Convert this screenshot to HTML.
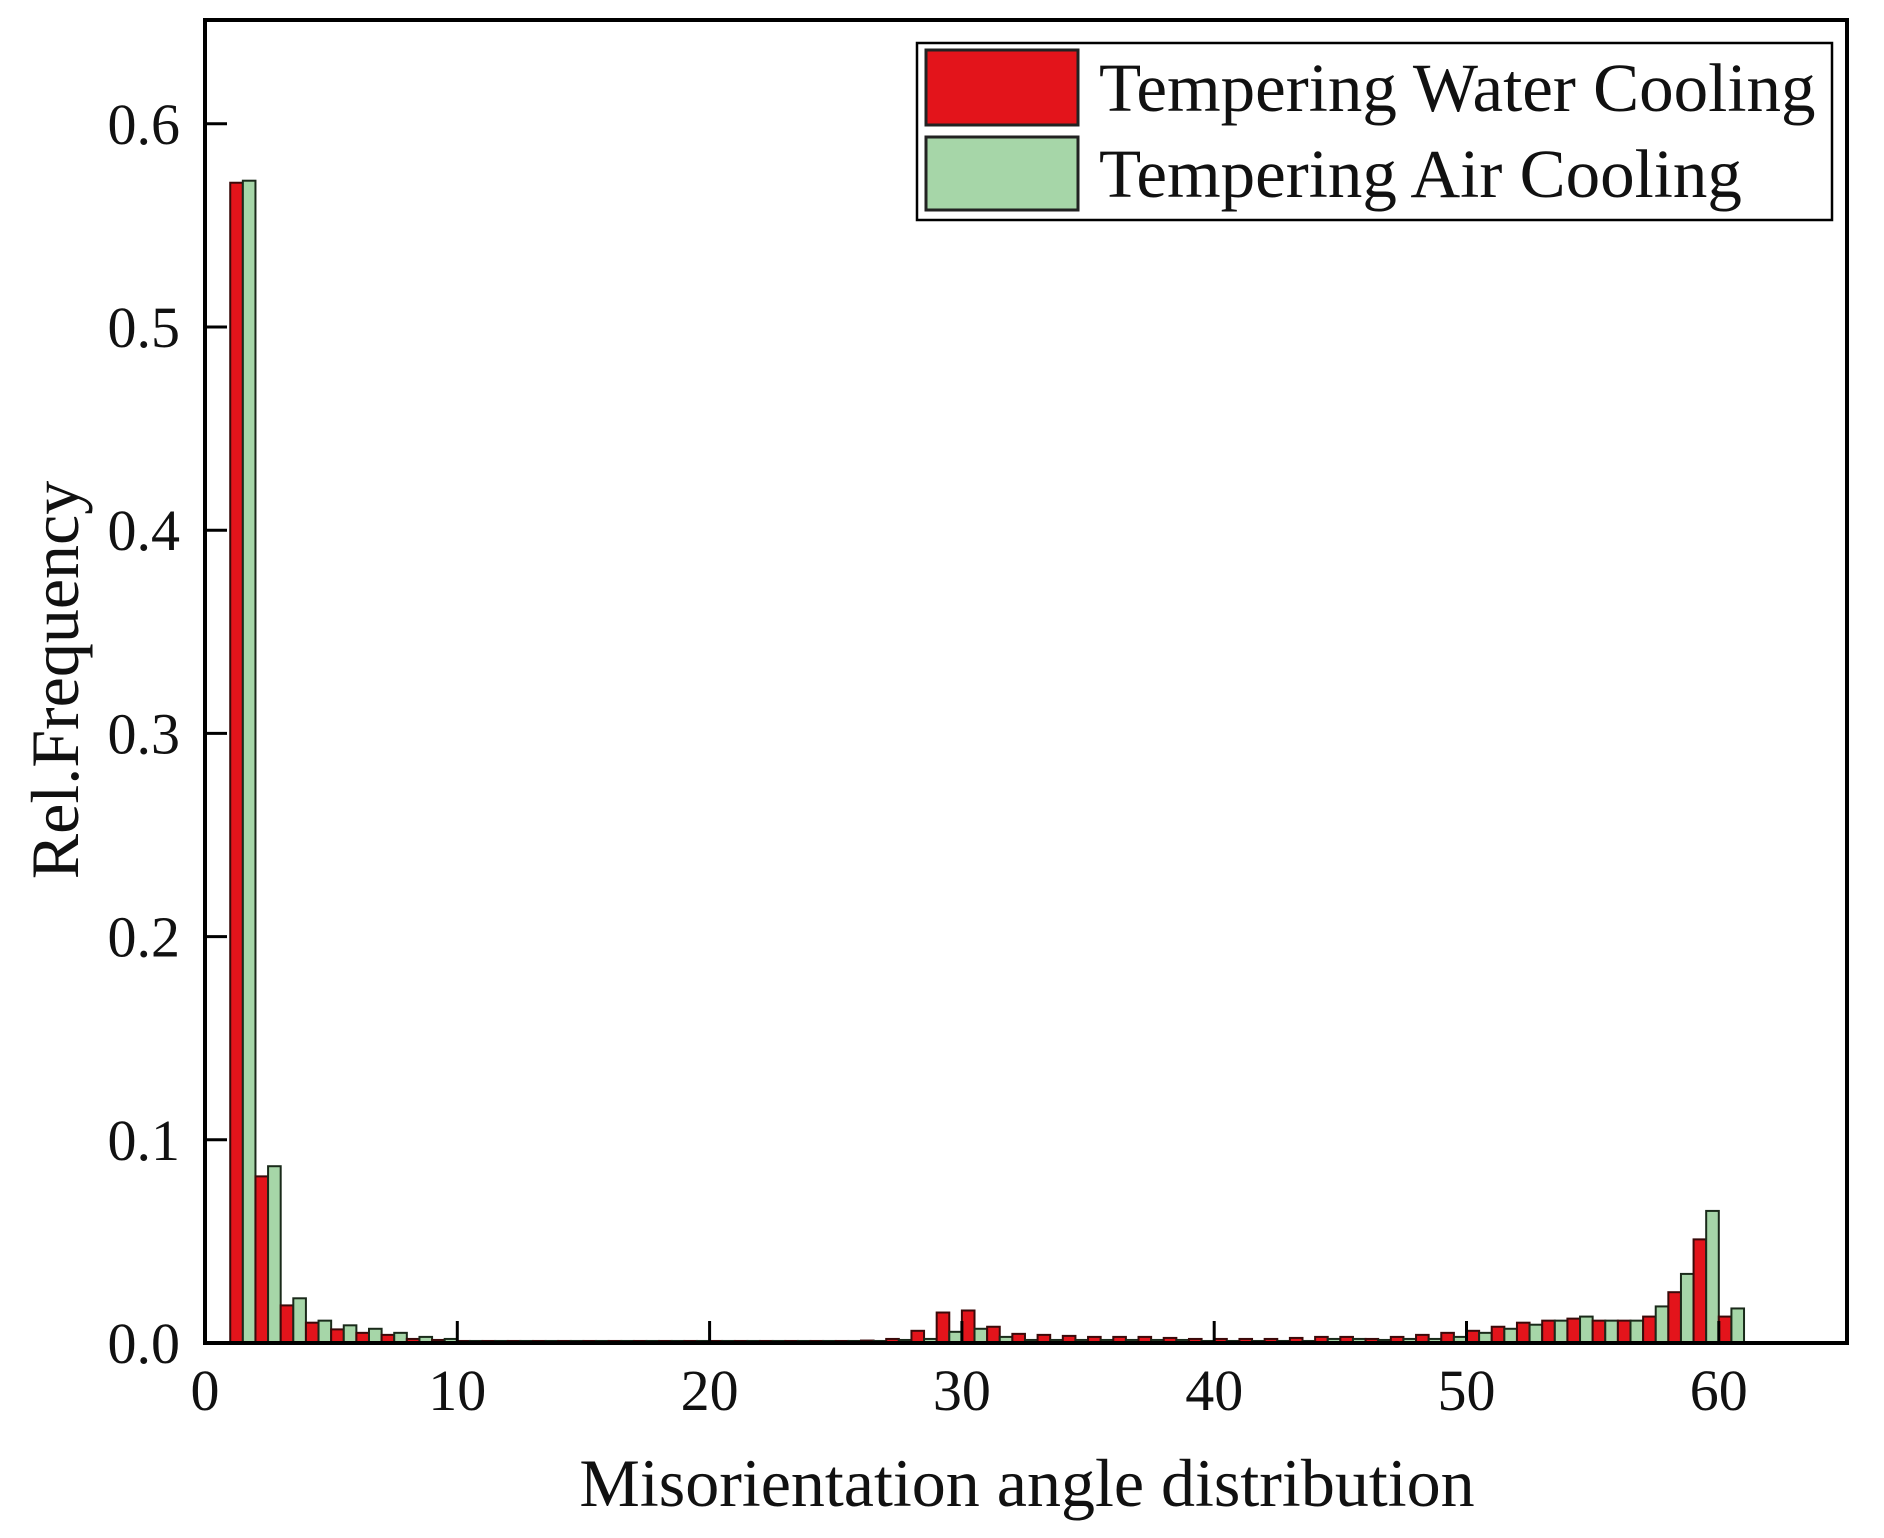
<!DOCTYPE html>
<html><head><meta charset="utf-8"><style>
body{margin:0;background:#fff}
svg{display:block}
text{font-family:"Liberation Serif",serif;fill:#111}
</style></head><body>
<svg id="chart" width="1884" height="1538" xmlns="http://www.w3.org/2000/svg">
<g id="bars"></g>
<rect x="205" y="20" width="1642" height="1323" fill="none" stroke="#000" stroke-width="4"/>
<g id="axes"></g>
<text transform="translate(78,680) rotate(-90)" text-anchor="middle" font-size="68">Rel.Frequency</text>
<text x="1027" y="1506" text-anchor="middle" font-size="68">Misorientation angle distribution</text>
<g>
<rect x="917" y="43" width="915" height="177" fill="#fff" stroke="#000" stroke-width="2.5"/>
<rect x="926" y="50" width="152" height="75" fill="#e3141b" stroke="#222" stroke-width="3"/>
<rect x="926" y="137" width="152" height="73" fill="#a6d6a8" stroke="#222" stroke-width="3"/>
<text x="1099" y="111" font-size="69">Tempering Water Cooling</text>
<text x="1099" y="197" font-size="69">Tempering Air Cooling</text>
</g>
</svg>
<script>
const bins = [1,2,3,4,5,6,7,8,9,10,11,12,13,14,15,16,17,18,19,20,21,22,23,24,25,26,27,28,29,30,31,32,33,34,35,36,37,38,39,40,41,42,43,44,45,46,47,48,49,50,51,52,53,54,55,56,57,58,59,60];
const waterCooling = [0.571,0.082,0.0185,0.010,0.0067,0.005,0.004,0.002,0.0015,0.001,0.001,0.001,0.001,0.001,0.001,0.001,0.001,0.001,0.001,0.001,0.001,0.001,0.001,0.001,0.001,0.0012,0.002,0.006,0.015,0.016,0.008,0.0045,0.004,0.0035,0.003,0.003,0.003,0.0025,0.002,0.002,0.002,0.002,0.0025,0.003,0.003,0.002,0.003,0.004,0.005,0.006,0.008,0.010,0.011,0.012,0.011,0.011,0.013,0.025,0.051,0.013];
const airCooling = [0.572,0.087,0.022,0.011,0.0087,0.007,0.005,0.003,0.002,0.001,0.001,0.001,0.001,0.001,0.001,0.001,0.001,0.001,0.001,0.001,0.001,0.001,0.001,0.001,0.001,0.001,0.0015,0.002,0.0055,0.007,0.003,0.0015,0.0015,0.0015,0.0015,0.0015,0.0015,0.0015,0.001,0.001,0.001,0.001,0.001,0.002,0.002,0.0015,0.002,0.002,0.003,0.005,0.007,0.009,0.011,0.013,0.011,0.011,0.018,0.034,0.065,0.017];
const xTicks = [0,10,20,30,40,50,60];
const yTicks = [0.0,0.1,0.2,0.3,0.4,0.5,0.6];
const yTickLabels = ["0.0","0.1","0.2","0.3","0.4","0.5","0.6"];

const NS = "http://www.w3.org/2000/svg";
const X0 = 205, XS = 25.23, Y0 = 1343, YS = 2032;
function xs(v){return X0 + v*XS;}
function ys(v){return Y0 - v*YS;}
function mk(tag, attrs, parent){const e=document.createElementNS(NS,tag);for(const k in attrs)e.setAttribute(k,attrs[k]);parent.appendChild(e);return e;}
const barsG = document.getElementById('bars');
bins.forEach((b,i)=>{
  const r = mk('rect',{x:xs(b),y:ys(waterCooling[i]),width:XS/2,height:Y0-ys(waterCooling[i]),fill:'#e3141b',stroke:'#3a0a0a','stroke-width':2},barsG);
  
  
  const g = mk('rect',{x:xs(b+0.5),y:ys(airCooling[i]),width:XS/2,height:Y0-ys(airCooling[i]),fill:'#a6d6a8',stroke:'#1a2a1a','stroke-width':2},barsG);
  
  
});
const axesG = document.getElementById('axes');
xTicks.forEach(t=>{
  const l = mk('line',{x1:xs(t),x2:xs(t),y1:Y0,y2:Y0-22,stroke:'#000','stroke-width':3},axesG);
  
  
  const tx = mk('text',{x:xs(t),y:1410,'text-anchor':'middle','font-size':58},axesG);
  tx.textContent = t;
  
  
});
yTicks.forEach((t,i)=>{
  const l = mk('line',{x1:X0,x2:X0+22,y1:ys(t),y2:ys(t),stroke:'#000','stroke-width':3},axesG);
  
  
  const tx = mk('text',{x:180,y:ys(t)+20,'text-anchor':'end','font-size':58},axesG);
  tx.textContent = yTickLabels[i];
  
  
});
</script>
</body></html>
